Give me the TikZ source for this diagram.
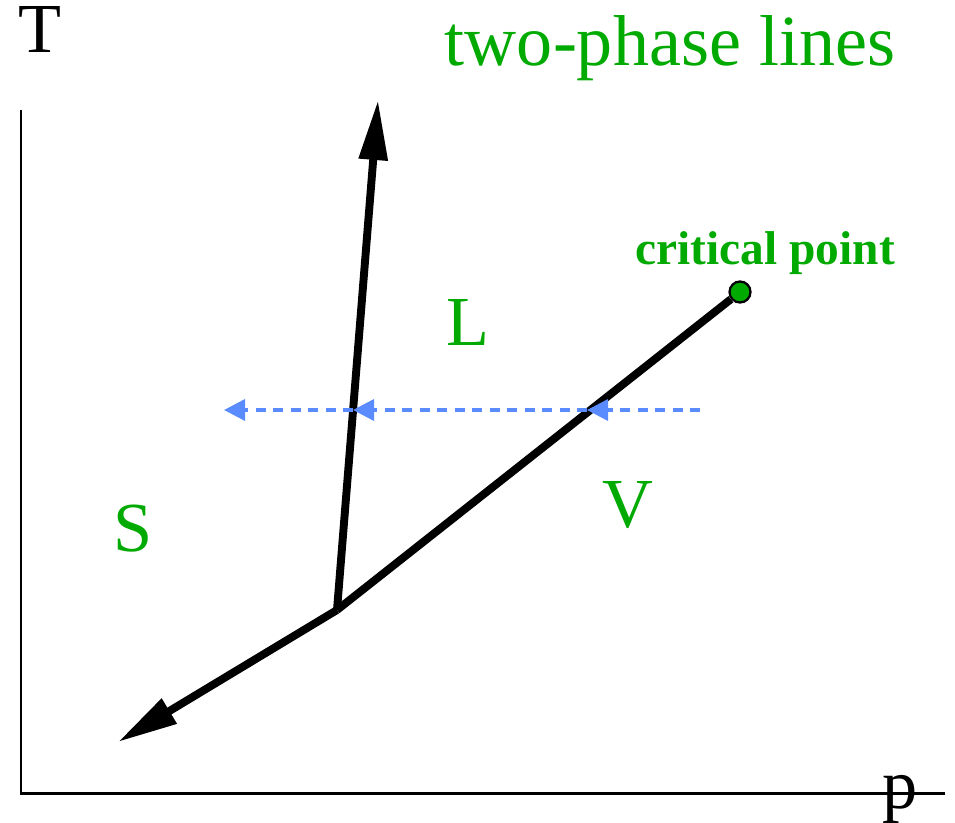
\documentclass[tikz,border=0pt]{standalone}
\usepackage{fontspec}
\setmainfont{Liberation Serif}
\usepackage{xcolor}
\usetikzlibrary{arrows.meta}

\definecolor{phasegreen}{RGB}{0,170,0}
\definecolor{pathblue}{RGB}{90,140,255}

\begin{document}
\begin{tikzpicture}[x=0.02cm,y=0.02cm,
    axis/.style={line width=1.7pt},
    phaseline/.style={line width=4.5pt},
    phasearrow/.style={phaseline,-{Triangle[length=1.2cm,width=0.55cm]}},
    isobar/.style={pathblue,line width=2pt,dash pattern=on 0.2cm off 0.15cm,
      -{Triangle[length=0.42cm,width=0.42cm]}},
    biglabel/.style={anchor=base,inner sep=0pt,font=\fontsize{40}{44}\selectfont},
    phaselabel/.style={biglabel,text=phasegreen}]
  \useasboundingbox (0,0) rectangle (955,822);

  % axes
  \coordinate (orig) at (21,29);
  \coordinate (ytop) at (21,712);
  \coordinate (xend) at (945,29);
  \draw[axis] (ytop) -- (orig) -- (xend);
  \node[biglabel] (tlab) at (40,769) {T};
  \node[biglabel] (plab) at (900,14) {p};

  % phase boundaries
  \coordinate (triple) at (337,212);
  \node[circle,draw,line width=1.3pt,fill=phasegreen,minimum size=0.42cm,inner sep=0pt] (crit) at (740,530) {};
  \coordinate (melttop) at (378,722);
  \coordinate (sublend) at (118,80);
  \draw[phaseline] (triple) -- (crit);
  \draw[phasearrow] (triple) -- (melttop);
  \draw[phasearrow] (triple) -- (sublend);

  % labels
  \node[phaselabel,font=\fontsize{41}{44}\selectfont] (title) at (670,756) {two-phase lines};
  \node[phaselabel,font=\fontsize{27}{30}\selectfont\bfseries] (critlab) at (765,557) {critical point};
  \node[phaselabel] (liq) at (468,477) {L};
  \node[phaselabel] (vap) at (628,295) {V};
  \node[phaselabel] (sol) at (133,271) {S};

  % isobaric path
  \coordinate (bstart) at (700,412);
  \coordinate (bvap) at (587,412);
  \coordinate (bliq) at (353,412);
  \coordinate (bsol) at (224,412);
  \draw[isobar] (bstart) -- (bvap);
  \draw[isobar] (bvap) -- (bliq);
  \draw[isobar] (bliq) -- (bsol);
\end{tikzpicture}
\end{document}
